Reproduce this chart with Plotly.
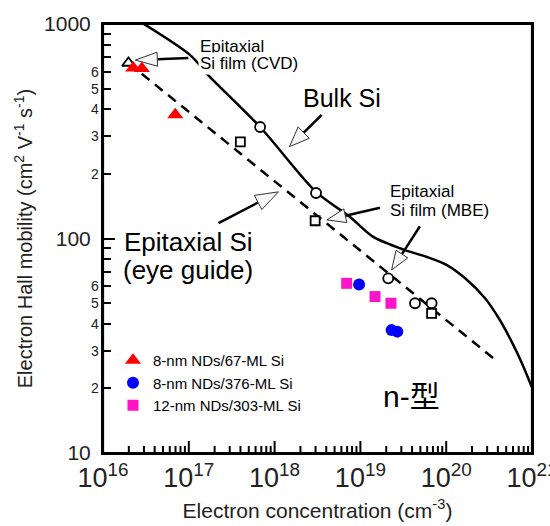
import math
import plotly.graph_objects as go

# ---------------- data ----------------
bulk_x = [2.31e16, 1.04e17, 1.68e17, 6.78e17, 3.04e18, 7.57e18, 1.40e19, 3.30e19,
          5.96e19, 1.02e20, 1.65e20, 2.82e20, 4.22e20, 5.83e20, 7.61e20, 9.95e20]
bulk_y = [1067, 716, 578, 331, 165, 126, 102, 88.3, 82.0, 75.2, 65.4, 52.8, 41.7, 32.9, 26.3, 20.3]

guide_x = [1.98e16, 4.0e20]
guide_y = [658, 26.6]

open_circle_x = [6.78e17, 3.04e18, 2.11e19, 4.33e19, 6.76e19]
open_circle_y = [331, 163, 65.2, 49.9, 49.9]
open_square_x = [3.99e17, 2.97e18, 6.76e19]
open_square_y = [282, 121, 44.8]
open_tri_x = [1.98e16]
open_tri_y = [658]

red_x = [2.25e16, 2.84e16, 6.95e16]
red_y = [624, 621, 377]
blue_x = [9.66e18, 2.31e19, 2.69e19]
blue_y = [61.1, 37.4, 36.8]
mag_x = [6.92e18, 1.48e19, 2.27e19]
mag_y = [61.8, 53.6, 49.9]

series_names = ["8-nm NDs/67-ML Si", "8-nm NDs/376-ML Si", "12-nm NDs/303-ML Si"]

x_decades = [16, 17, 18, 19, 20, 21]
y_major = [10, 100, 1000]
y_minor_labels = [2, 3, 4, 5, 6]

# arrows: (tail_x, tail_y, tip_x, tip_y, head_len_px, head_halfwidth_px)
arrows = [
    (9.89e16, 694, 2.38e16, 679, 22, 7),     # CVD
    (3.54e18, 377, 1.49e18, 268, 20, 8),     # Bulk Si
    (2.22e17, 118, 1.11e18, 165, 23, 8),     # eye guide
    (1.69e19, 139, 4.06e18, 122, 19, 7),     # MBE 1
    (4.94e19, 114, 2.31e19, 71.3, 19, 7),    # MBE 2
]

# ---------------- layout geometry ----------------
W, H = 550, 526
ML, MR, MT, MB = 103, 18, 24, 73
PW = W - ML - MR
PH = H - MT - MB
XR = [16, 21]
YR = [1, 3]
SX = PW / (XR[1] - XR[0])
SY = PH / (YR[1] - YR[0])

FONT = "Liberation Sans, Arial, Noto Sans CJK SC, sans-serif"

fig = go.Figure()

# bulk curve
fig.add_trace(go.Scatter(x=bulk_x, y=bulk_y, mode="lines", line=dict(color="black", width=2.5, shape="spline", smoothing=0.8),
                         showlegend=False, hoverinfo="skip"))
# eye guide
fig.add_trace(go.Scatter(x=guide_x, y=guide_y, mode="lines", line=dict(color="black", width=2.5, dash="10px,7px"),
                         showlegend=False, hoverinfo="skip"))


def back(X, Y):
    return 10 ** (X / SX), 10 ** (Y / SY)


# arrows
for tx, ty, hx, hy, L, Wh in arrows:
    X0, Y0 = math.log10(tx) * SX, math.log10(ty) * SY
    X1, Y1 = math.log10(hx) * SX, math.log10(hy) * SY
    dx, dy = X1 - X0, Y1 - Y0
    n = math.hypot(dx, dy)
    ux, uy = dx / n, dy / n
    bx, by = X1 - L * ux, Y1 - L * uy
    px_, py_ = -uy, ux
    sx0, sy0 = back(X0, Y0)
    sbx, sby = back(bx, by)
    fig.add_trace(go.Scatter(x=[sx0, sbx], y=[sy0, sby], mode="lines", line=dict(color="black", width=2.5),
                             showlegend=False, hoverinfo="skip"))
    v = [back(X1, Y1), back(bx + Wh * px_, by + Wh * py_), back(bx - Wh * px_, by - Wh * py_), back(X1, Y1)]
    fig.add_trace(go.Scatter(x=[p[0] for p in v], y=[p[1] for p in v], mode="lines", fill="toself",
                             fillcolor="#f6f6f6", line=dict(color="#333333", width=1),
                             showlegend=False, hoverinfo="skip"))

# bottom-axis tick marks (inside), drawn through the axis scales
x_major_vals = [10.0 ** d for d in x_decades]
x_minor_vals = [m * 10.0 ** d for d in x_decades[:-1] for m in range(2, 10)]
tick_x, tick_y = [], []
for v, ln in [(v, 12) for v in x_major_vals] + [(v, 7) for v in x_minor_vals]:
    tick_x += [v, v, None]
    tick_y += [10.0 ** YR[0], 10 ** (YR[0] + ln / SY), None]
fig.add_trace(go.Scatter(x=tick_x, y=tick_y, mode="lines", line=dict(color="black", width=2),
                         showlegend=False, hoverinfo="skip"))

# open reference markers
fig.add_trace(go.Scatter(x=open_circle_x, y=open_circle_y, mode="markers",
                         marker=dict(symbol="circle", size=10, color="white", line=dict(color="black", width=1.8)),
                         showlegend=False, hoverinfo="skip"))
fig.add_trace(go.Scatter(x=open_square_x, y=open_square_y, mode="markers",
                         marker=dict(symbol="square", size=9, color="white", line=dict(color="black", width=1.8)),
                         showlegend=False, hoverinfo="skip"))
fig.add_trace(go.Scatter(x=open_tri_x, y=open_tri_y, mode="markers",
                         marker=dict(symbol="triangle-up", size=11, color="white", line=dict(color="black", width=1.8)),
                         showlegend=False, hoverinfo="skip"))

# sample series
fig.add_trace(go.Scatter(x=red_x, y=red_y, mode="markers", name=series_names[0],
                         marker=dict(symbol="triangle-up", size=14, color="#ff0000")))
fig.add_trace(go.Scatter(x=blue_x, y=blue_y, mode="markers", name=series_names[1],
                         marker=dict(symbol="circle", size=12, color="#0000ff")))
fig.add_trace(go.Scatter(x=mag_x, y=mag_y, mode="markers", name=series_names[2],
                         marker=dict(symbol="square", size=11, color="#ff14c8")))


def xp(px):
    return (px - ML) / PW


def yp(py):
    return (MT + PH - py) / PH


annotations = []
texts = [
    ("Epitaxial", 198, 47, 17, False),
    ("Si film (CVD)", 198, 63, 17, True),
    ("Bulk Si", 301, 98, 25, False),
    ("Epitaxial Si", 122, 242, 26, False),
    ("(eye guide)", 121, 270, 26, False),
    ("Epitaxial", 388, 191, 17, False),
    ("Si film (MBE)", 388, 210, 17, False),
    ("n-型", 381, 396, 30, False),
]
for t, x, y, fs, bg in texts:
    a = dict(text=t, x=xp(x), y=yp(y), xref="paper", yref="paper", xanchor="left", yanchor="middle",
             showarrow=False, font=dict(size=fs, color="black", family=FONT))
    if bg:
        a["bgcolor"] = "white"
    annotations.append(a)

for d in range(YR[0], YR[1]):
    for m in y_minor_labels:
        annotations.append(dict(text=str(m), x=0, y=math.log10(m * 10.0 ** d), xref="paper", yref="y",
                                xanchor="right", yanchor="middle", xshift=-2, showarrow=False,
                                font=dict(size=14, color="#222", family=FONT)))

fig.update_layout(
    width=W, height=H,
    margin=dict(l=ML, r=MR, t=MT, b=MB, autoexpand=False),
    paper_bgcolor="white", plot_bgcolor="white",
    font=dict(family=FONT, color="black"),
    annotations=annotations,
    shapes=[dict(type="rect", xref="paper", yref="paper", x0=0, y0=0, x1=1, y1=1,
                 line=dict(color="black", width=2.2), fillcolor="rgba(0,0,0,0)", layer="above")],
    showlegend=True,
    legend=dict(x=xp(113), y=yp(344), xanchor="left", yanchor="top", bgcolor="rgba(0,0,0,0)",
                font=dict(size=15, family=FONT, color="black"), itemsizing="trace", tracegroupgap=0),
)

fig.layout.xaxis.update(
    type="log", range=XR, showgrid=False, zeroline=False, automargin=False,
    showline=True, linewidth=2, linecolor="black", mirror=True,
    ticks="", tickmode="array", tickvals=x_major_vals, ticktext=["10<sup>%d</sup>" % d for d in x_decades],
    tickfont=dict(size=27, family=FONT, color="#222"), ticklabeloverflow="allow",
    title=dict(text="Electron concentration (cm<sup>-3</sup>)", font=dict(size=21, family=FONT, color="#222"), standoff=11),
)
fig.layout.yaxis.update(
    type="log", range=YR, showgrid=False, zeroline=False, automargin=False,
    showline=True, linewidth=2, linecolor="black", mirror=True,
    ticks="inside", ticklen=12, tickwidth=1.8, tickcolor="black",
    tickvals=y_major, ticktext=[str(v) for v in y_major],
    tickfont=dict(size=21, family=FONT, color="#222"), ticklabelstandoff=6, ticklabeloverflow="allow",
    minor=dict(ticks="inside", ticklen=8, tickwidth=1.5, tickcolor="black",
               tickvals=[m * 10.0 ** d for d in range(YR[0], YR[1]) for m in range(2, 10)]),
    title=dict(text="Electron Hall mobility (cm<sup>2</sup> V<sup>-1</sup> s<sup>-1</sup>)",
               font=dict(size=20, family=FONT, color="#222"), standoff=6),
)

fig.write_html("out.html", config={"displayModeBar": False},
               post_script="document.body.style.margin='0px';document.body.style.overflow='hidden';")
